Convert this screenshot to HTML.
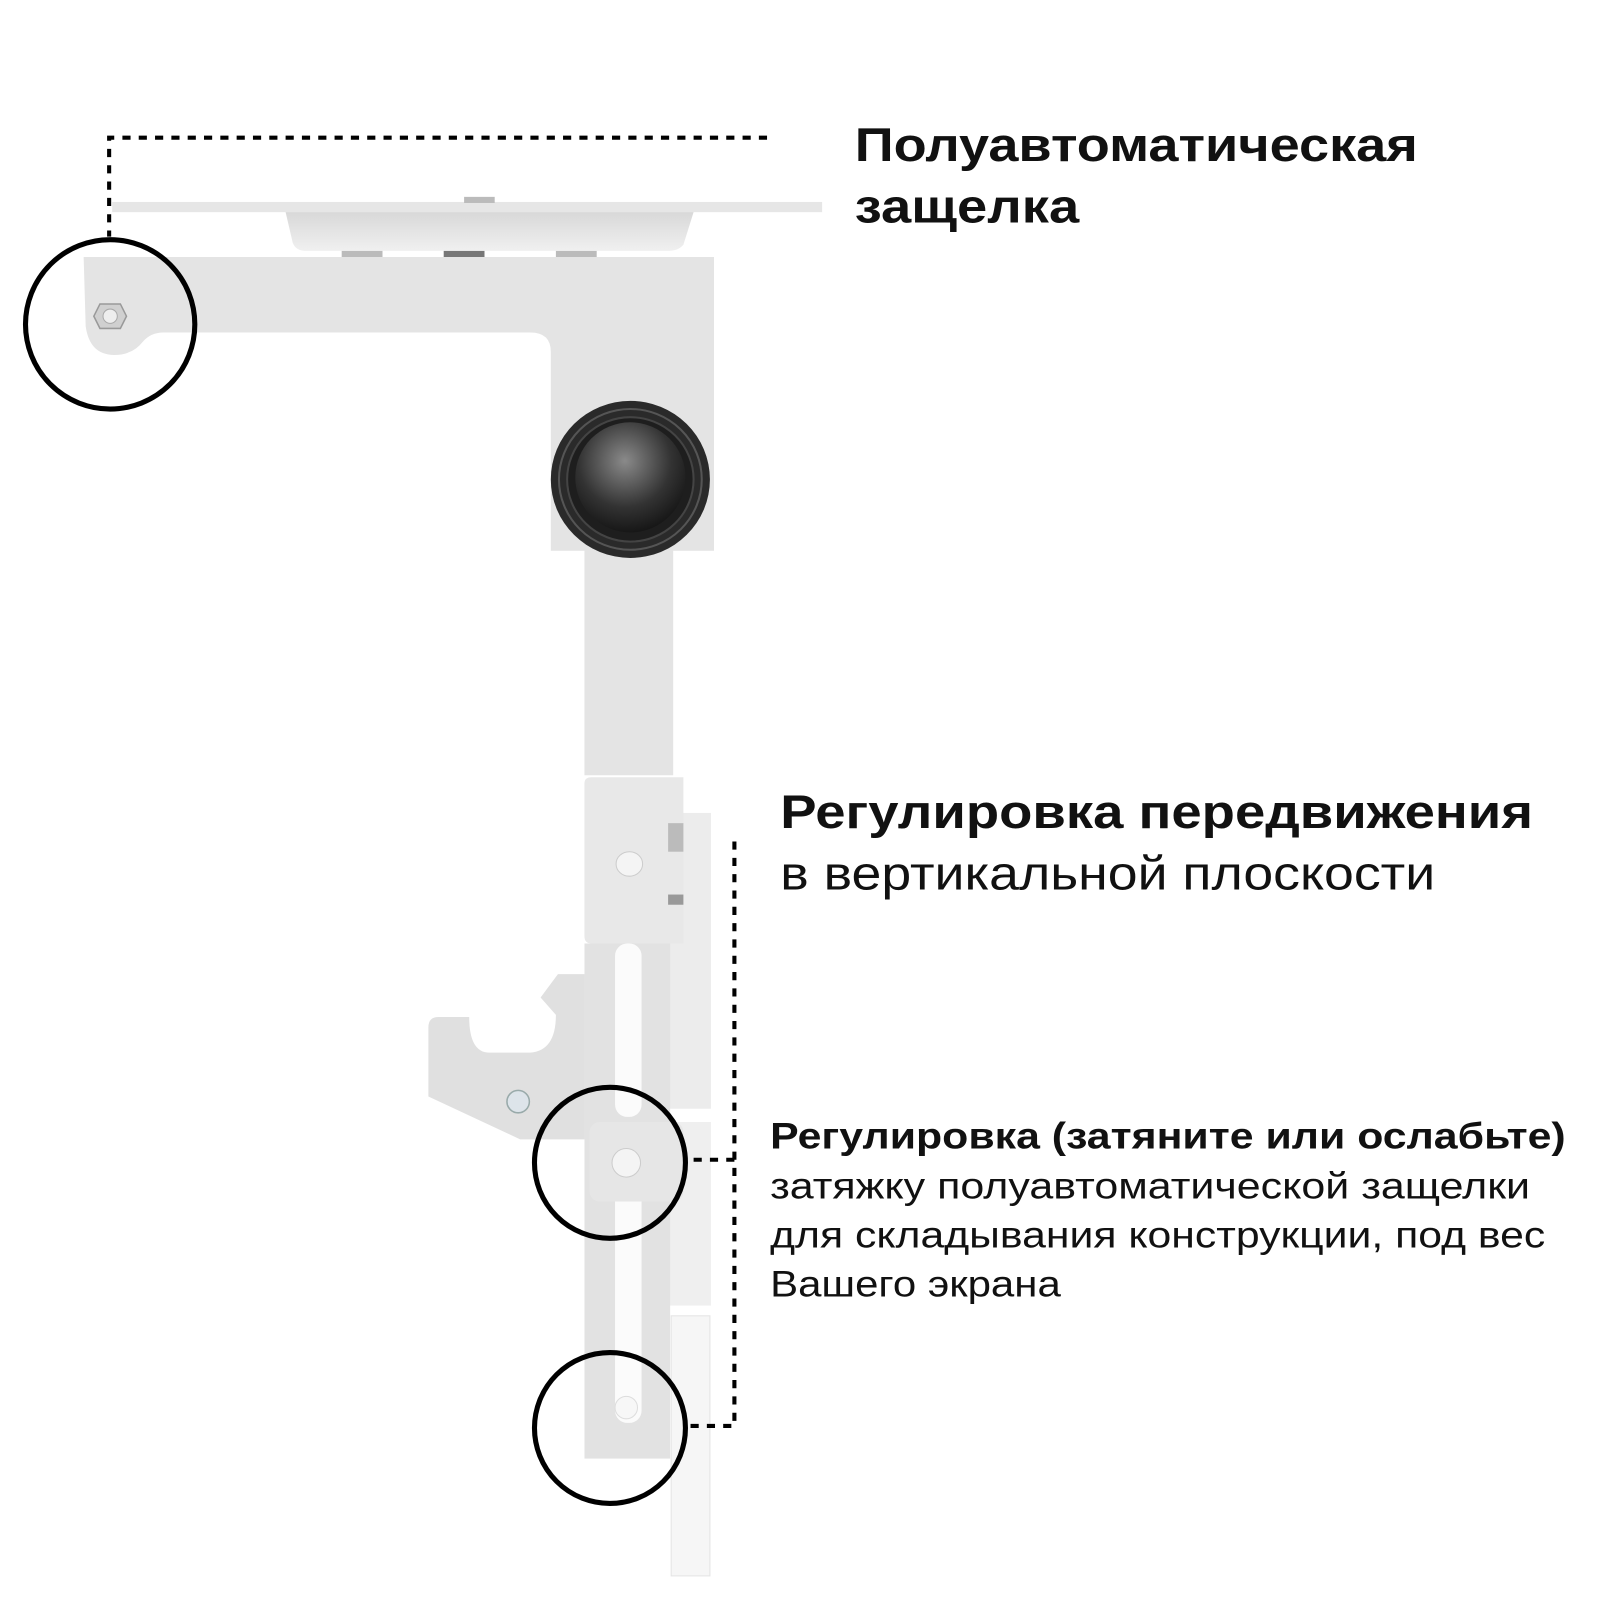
<!DOCTYPE html>
<html><head><meta charset="utf-8"><style>
html,body{margin:0;padding:0;background:#fff;width:1600px;height:1600px;overflow:hidden}
svg{display:block}
text{font-family:"Liberation Sans","DejaVu Sans",sans-serif;fill:#111}
</style></head><body>
<svg width="1600" height="1600" viewBox="0 0 1600 1600" xmlns="http://www.w3.org/2000/svg">
<defs>
<radialGradient id="ball" cx="0.45" cy="0.35" r="0.7"><stop offset="0" stop-color="#8a8a8a"/><stop offset="0.6" stop-color="#333"/><stop offset="1" stop-color="#111"/></radialGradient>
<linearGradient id="dish" x1="0" y1="0" x2="0" y2="1"><stop offset="0" stop-color="#d8d8d8"/><stop offset="1" stop-color="#f0f0f0"/></linearGradient>
</defs>
<g transform="scale(1.02)">
<rect x="110" y="198" width="696" height="10" fill="#e6e6e6"/>
<rect x="455" y="193" width="30" height="6" fill="#bbb"/>
<path d="M280 208 L680 208 L670 240 Q665 246 655 246 L300 246 Q290 246 287 238 Z" fill="url(#dish)"/>
<rect x="335" y="246" width="40" height="7" fill="#bbb"/><rect x="435" y="246" width="40" height="7" fill="#777"/><rect x="545" y="246" width="40" height="7" fill="#bbb"/>
<path d="M82 252 L700 252 L700 540 L660 540 L660 760 L573 760 L573 540 L540 540 L540 345 Q540 326 520 326 L160 326 Q148 326 140 335 Q130 348 112 348 Q88 348 84 320 Z" fill="#e4e4e4"/>
<polygon points="98,298 118,298 124,310 118,322 98,322 92,310" fill="#d0d0d0" stroke="#999" stroke-width="1.5"/>
<circle cx="108" cy="310" r="7" fill="#eee" stroke="#aaa"/>
<ellipse cx="618" cy="470" rx="78" ry="77" fill="#2a2a2a"/>
<ellipse cx="618" cy="470" rx="70" ry="69" fill="none" stroke="#555" stroke-width="2"/>
<ellipse cx="618" cy="470" rx="62" ry="61" fill="#1e1e1e" stroke="#444" stroke-width="2"/>
<circle cx="618" cy="468" r="54" fill="url(#ball)"/>
<rect x="655" y="797" width="42" height="290" fill="#ececec"/>
<rect x="655" y="1100" width="42" height="180" fill="#efefef"/>
<rect x="658" y="1290" width="38" height="255" fill="#f6f6f6" stroke="#e4e4e4"/>
<rect x="573" y="925" width="84" height="505" fill="#e2e2e2"/>
<rect x="603" y="925" width="26" height="170" rx="12" fill="#fbfbfb"/>
<rect x="603" y="1160" width="26" height="235" rx="12" fill="#fbfbfb"/>
<path d="M420 1007 Q420 997 430 997 L460 997 Q460 1032 480 1032 L520 1032 Q545 1030 545 995 L530 978 L547 955 L573 955 L573 1117 L510 1117 L420 1075 Z" fill="#e0e0e0"/>
<circle cx="508" cy="1080" r="11" fill="#dde4ea" stroke="#9aa" stroke-width="1.5"/>
<rect x="578" y="1100" width="92" height="78" rx="10" fill="#e6e6e6"/>
<circle cx="614" cy="1140" r="14" fill="#f4f4f4" stroke="#ccc"/>
<circle cx="614" cy="1380" r="11" fill="#f7f7f7" stroke="#ddd"/>
<path d="M573 768 Q573 762 580 762 L670 762 L670 925 L580 925 Q573 925 573 918 Z" fill="#e8e8e8"/>
<ellipse cx="617" cy="847" rx="13" ry="12" fill="#f4f4f4" stroke="#ccc"/>
<rect x="655" y="807" width="15" height="28" fill="#bbb"/><rect x="655" y="877" width="15" height="10" fill="#999"/>
<g fill="none" stroke="#000" stroke-width="5">
<circle cx="108" cy="318" r="83"/>
<circle cx="598" cy="1140" r="74"/>
<circle cx="598" cy="1400" r="74"/>
</g>
<g fill="none" stroke="#000" stroke-width="4" stroke-dasharray="8,8">
<path d="M752 135 L107 135 L107 232"/>
<path d="M720 825 L720 1398 L676 1398"/>
<path d="M720 1137 L676 1137"/>
</g>
<text x="838" y="158" font-size="46" font-weight="bold" textLength="552" lengthAdjust="spacingAndGlyphs">Полуавтоматическая</text>
<text x="838" y="218" font-size="46" font-weight="bold" textLength="220" lengthAdjust="spacingAndGlyphs">защелка</text>
<text x="765" y="812" font-size="46" font-weight="bold" textLength="738" lengthAdjust="spacingAndGlyphs">Регулировка передвижения</text>
<text x="765" y="872" font-size="46" textLength="642" lengthAdjust="spacingAndGlyphs">в вертикальной плоскости</text>
<text x="755" y="1126" font-size="36" font-weight="bold" textLength="780" lengthAdjust="spacingAndGlyphs">Регулировка (затяните или ослабьте)</text>
<text x="755" y="1175" font-size="36" textLength="745" lengthAdjust="spacingAndGlyphs">затяжку полуавтоматической защелки</text>
<text x="755" y="1223" font-size="36" textLength="760" lengthAdjust="spacingAndGlyphs">для складывания конструкции, под вес</text>
<text x="755" y="1271" font-size="36" textLength="285" lengthAdjust="spacingAndGlyphs">Вашего экрана</text>
</g>
</svg>
</body></html>
